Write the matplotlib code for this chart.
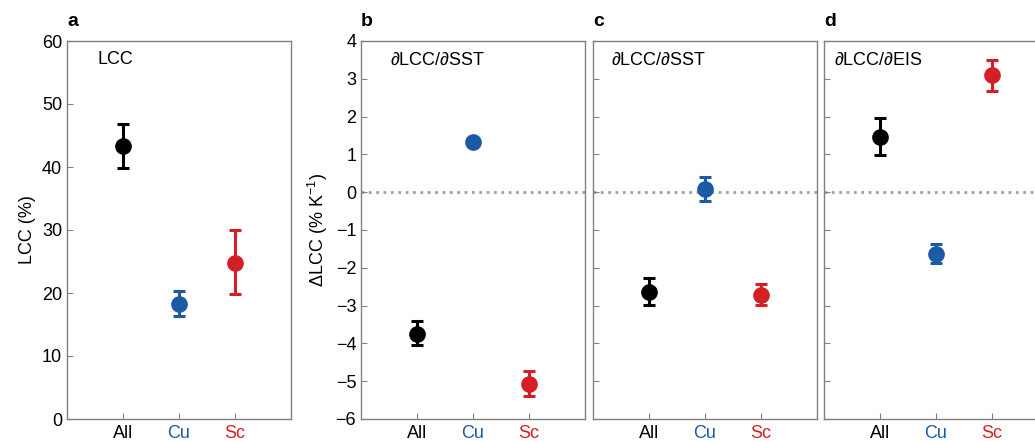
# LCC and its sensitivities for all low clouds, cumulus and stratocumulus

import matplotlib.pyplot as plt

plt.rcParams['font.family'] = ['Liberation Sans', 'DejaVu Sans']
plt.rcParams['mathtext.fontset'] = 'custom'
plt.rcParams['mathtext.rm'] = 'Liberation Sans'
plt.rcParams['mathtext.it'] = 'Liberation Sans:italic'

categories = ["All", "Cu", "Sc"]
colors = ["black", "#1c5aa6", "#d41f26"]

# panel a: LCC (%)
lcc = [43.3, 18.3, 24.8]
lcc_lo = [39.9, 16.4, 19.9]
lcc_hi = [46.8, 20.3, 30.0]

# panel b: dLCC/dSST
sst_b = [-3.74, 1.33, -5.07]
sst_b_lo = [-4.05, 1.33, -5.38]
sst_b_hi = [-3.42, 1.33, -4.74]

# panel c: dLCC/dSST
sst_c = [-2.63, 0.08, -2.71]
sst_c_lo = [-2.98, -0.23, -2.98]
sst_c_hi = [-2.27, 0.40, -2.44]

# panel d: dLCC/dEIS
eis = [1.47, -1.63, 3.10]
eis_lo = [0.98, -1.87, 2.69]
eis_hi = [1.97, -1.38, 3.50]

W, H = 1035, 442
fig = plt.figure(figsize=(W / 100, H / 100), dpi=100)

def px_axes(left, right, top=41, bottom=419):
    return fig.add_axes([left / W, 1 - bottom / H, (right - left) / W, (bottom - top) / H])

panels = [
    (px_axes(67, 291), lcc, lcc_lo, lcc_hi, "LCC", "a", 0.135),
    (px_axes(361, 585), sst_b, sst_b_lo, sst_b_hi, r"$\partial$LCC/$\partial$SST", "b", 0.13),
    (px_axes(593, 817), sst_c, sst_c_lo, sst_c_hi, r"$\partial$LCC/$\partial$SST", "c", 0.08),
    (px_axes(824, 1048), eis, eis_lo, eis_hi, r"$\partial$LCC/$\partial$EIS", "d", 0.045),
]

fs = 13
xs = [1, 2, 3]
for i, (ax, vals, lo, hi, title, letter, tx) in enumerate(panels):
    for x, v, l, h, c in zip(xs, vals, lo, hi, colors):
        ax.errorbar(x, v, yerr=[[v - l], [h - v]], fmt='o', color=c, ms=11,
                    elinewidth=2.2, capsize=4, capthick=2.2, zorder=3)
    ax.set_xlim(0, 4)
    ax.set_xticks(xs)
    ax.set_xticklabels(categories)
    for lab, c in zip(ax.get_xticklabels(), colors):
        lab.set_color(c)
    for s in ax.spines.values():
        s.set_color('#808080')
        s.set_linewidth(1)
    ax.tick_params(direction='in', length=4, color='#808080', labelsize=fs)
    ax.tick_params(axis='x', pad=4)
    ax.text(tx, 0.95, title, transform=ax.transAxes, fontsize=fs,
            va='center', ha='left')
    ax.text(0.0, 1.03, letter, transform=ax.transAxes, fontsize=14,
            fontweight='bold', va='bottom', ha='left')
    if i == 0:
        ax.set_ylim(0, 60)
        ax.set_yticks(range(0, 61, 10))
        ax.set_ylabel("LCC (%)", fontsize=fs)
    else:
        ax.set_ylim(-6, 4)
        ax.set_yticks(range(-6, 5))
        ax.axhline(0, color='#a0a0a0', linestyle=':', linewidth=2, zorder=1)
        if i == 1:
            ax.set_yticklabels([str(t).replace('-', '\u2212') for t in range(-6, 5)])
            ax.set_ylabel("\u0394LCC (% K$^{\u22121}$)", fontsize=fs)
        else:
            ax.set_yticklabels([])

fig.savefig("out.png", dpi=100)
